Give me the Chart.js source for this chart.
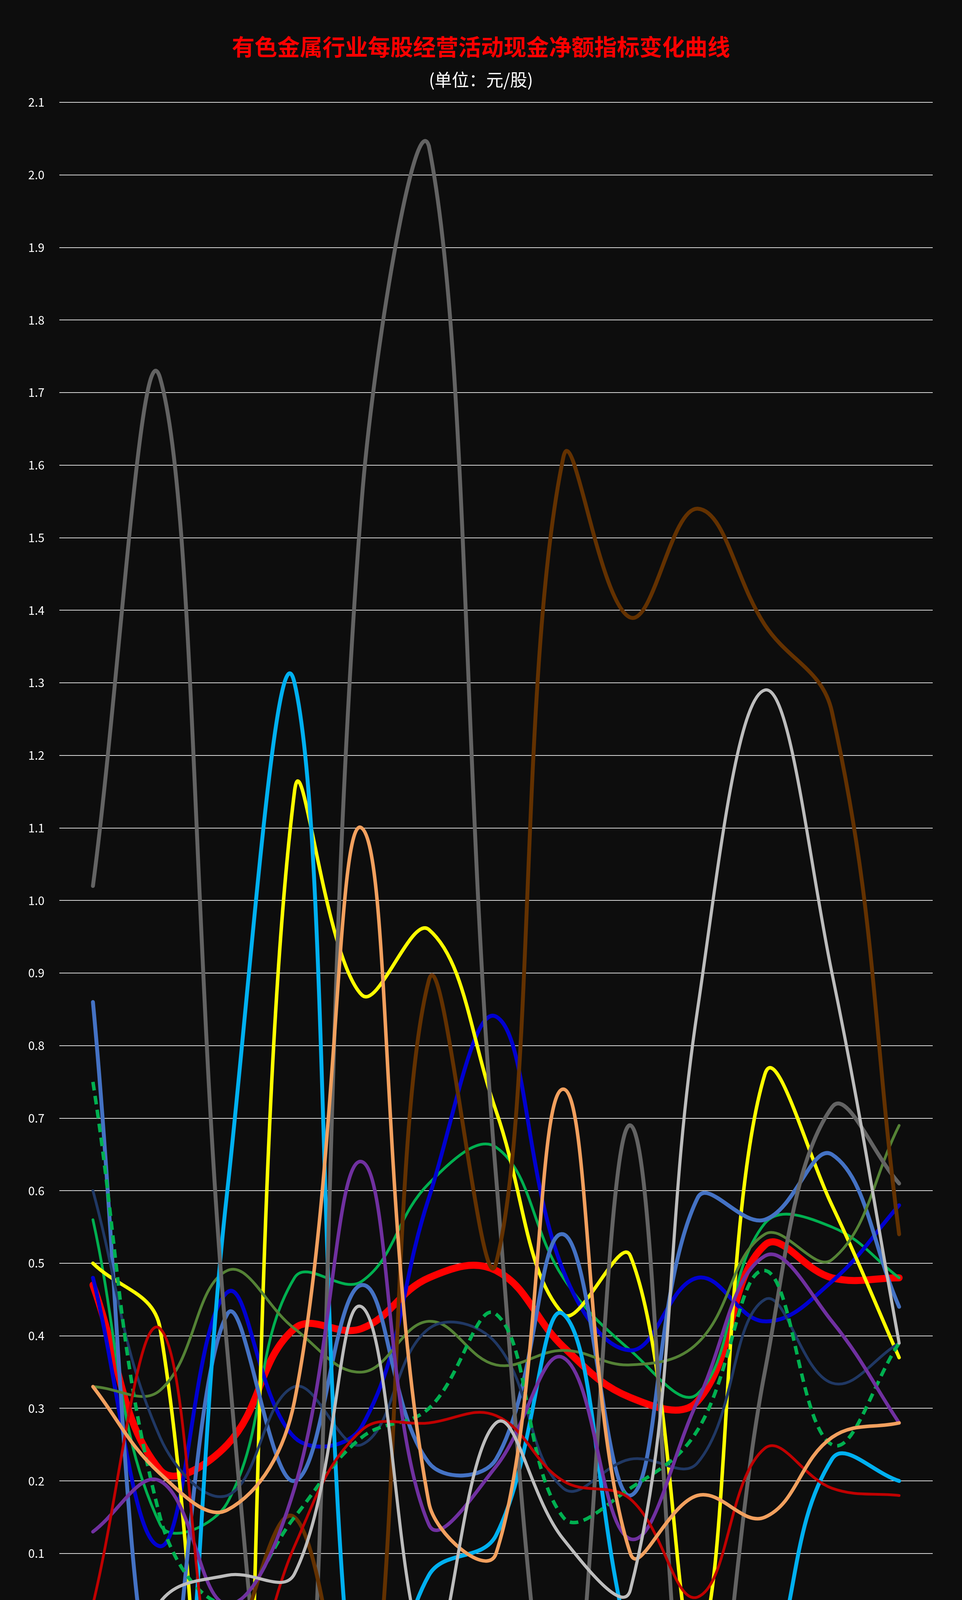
<!DOCTYPE html>
<html>
<head>
<meta charset="utf-8">
<script src="https://cdn.jsdelivr.net/npm/chart.js@4.4.1/dist/chart.umd.min.js"></script>
<style>
body{margin:0;background:#0d0d0d;}
#wrap{position:relative;width:2464px;height:5836px;background:#0d0d0d;overflow:hidden;
  font-family:"Noto Sans CJK SC","Noto Sans",sans-serif;color:#fff;}
#c{position:absolute;left:0;top:0;}
.title{position:absolute;left:0;width:2464px;top:82px;text-align:center;font-size:58px;line-height:70px;font-weight:bold;color:#ff0000;}
.sub{position:absolute;left:0;width:2464px;top:176px;text-align:center;font-size:44px;line-height:52px;}
.leg{position:absolute;height:40px;display:flex;align-items:center;font-size:30px;white-space:nowrap;}
.sw{width:63px;height:8px;border-radius:4px;margin-right:2px;}
.dash{width:63px;display:flex;gap:8px;margin-right:2px;}
.dash span{flex:1;height:9px;border-radius:4px;}
.mark{position:absolute;left:2118px;top:5736px;font-size:64px;line-height:72px;color:#fff;
  text-shadow:0 0 6px #000,0 0 3px #000;}
.logo{position:absolute;left:2026px;top:5738px;}
</style>
</head>
<body>
<div id="wrap">
  <canvas id="c" width="2464" height="5836"></canvas>
  <div class="title">有色金属行业每股经营活动现金净额指标变化曲线</div>
  <div class="sub">(单位：元/股)</div>
  <div id="legend"></div>
  <svg class="logo" width="92" height="80" viewBox="0 0 92 80">
    <ellipse cx="40" cy="46" rx="38" ry="30" fill="#fff" transform="rotate(-20 40 46)"/>
    <ellipse cx="36" cy="52" rx="20" ry="16" fill="#0d0d0d"/>
    <circle cx="34" cy="54" r="8" fill="#fff"/>
    <path d="M62 6 a26 26 0 0 1 26 28" stroke="#fff" stroke-width="6" fill="none" stroke-linecap="round"/>
  </svg>
  <div class="mark">@赵毅论房</div>
</div>

<script>
// categories
const years = ["2008年报","2009年报","2010年报","2011年报","2012年报","2013年报","2014年报",
  "2015年报","2016年报","2017年报","2018年报","2019年报","2020年报"];

// series values (元/股)
const nonferrous      = [0.47, 0.215, 0.25, 0.41, 0.41, 0.48, 0.49, 0.385, 0.315, 0.31, 0.525, 0.48, 0.48];
const industrialMetal = [0.56, 0.14, 0.17, 0.48, 0.475, 0.61, 0.66, 0.48, 0.38, 0.32, 0.555, 0.55, 0.48];
const aluminium       = [0.48, 0.11, 0.46, 0.26, 0.275, 0.59, 0.84, 0.49, 0.38, 0.48, 0.42, 0.475, 0.58];
const copper          = [0.50, 0.41, -0.63, 1.15, 0.87, 0.96, 0.71, 0.43, 0.51, -0.03, 0.76, 0.58, 0.37];
const leadZinc        = [0.86, -0.13, 0.43, 0.20, 0.47, 0.225, 0.23, 0.54, 0.18, 0.59, 0.56, 0.65, 0.44];
const gold            = [0.33, 0.325, 0.49, 0.41, 0.35, 0.42, 0.36, 0.38, 0.36, 0.39, 0.54, 0.505, 0.69];
const rareMetal       = [0.60, 0.26, 0.18, 0.33, 0.25, 0.41, 0.39, 0.19, 0.23, 0.225, 0.45, 0.335, 0.39];
const rareEarth       = [-0.03, -0.37, 0.60, 1.30, -0.20, 0.07, 0.125, 0.43, -0.03, -0.26, -0.095, 0.23, 0.20];
const tungsten        = [1.02, 1.72, 0.38, -0.35, 1.55, 2.04, 0.62, -0.19, 0.69, -0.25, 0.35, 0.715, 0.61];
const lithium         = [null, null, -0.06, 0.15, -0.205, 0.89, 0.50, 1.61, 1.39, 1.54, 1.38, 1.26, 0.54];
const otherMinor      = [0.75, 0.15, 0.03, 0.15, 0.26, 0.30, 0.43, 0.15, 0.19, 0.27, 0.49, 0.25, 0.39];
const newMaterial     = [0.13, 0.20, 0.03, 0.19, 0.64, 0.14, 0.22, 0.37, 0.12, 0.31, 0.51, 0.42, 0.28];
const metalNewMat     = [0.03, 0.41, -0.145, 0.11, 0.27, 0.28, 0.29, 0.20, 0.175, 0.04, 0.245, 0.19, 0.18];
const magnetic        = [0.33, 0.21, 0.16, 0.31, 1.10, 0.17, 0.10, 0.74, 0.10, 0.18, 0.15, 0.26, 0.28];
const nonMetalNewMat  = [-0.18, 0.033, 0.07, 0.072, 0.44, -0.04, 0.28, 0.12, 0.05, 0.85, 1.29, 0.90, 0.39];

const seriesNames = ["有色金属行业","工业金属业","铝业","铜业","铅锌业",
  "黄金业","稀有金属业","稀土业","钨业","锂业",
  "其它稀有小金属业","金属非金属新材料业","金属新材料业","磁性材料业","非金属新材料业"];
const seriesData = [nonferrous, industrialMetal, aluminium, copper, leadZinc,
  gold, rareMetal, rareEarth, tungsten, lithium,
  otherMinor, newMaterial, metalNewMat, magnetic, nonMetalNewMat];

// styles
const colors = ["#ff0000","#00b050","#0000d0","#ffff00","#4472c4",
  "#548235","#203864","#00b0f0","#636363","#633100",
  "#00b050","#7030a0","#c00000","#f2a05e","#bdbdbd"];
const widths = [18,7,10,9,10, 7,7,10,10,10, 9,9,7,9,8];

const FONT = '"Noto Sans CJK SC","Noto Sans",sans-serif';

const datasets = seriesData.map((d, i) => ({
  label: seriesNames[i],
  data: d,
  borderColor: colors[i],
  backgroundColor: colors[i],
  borderWidth: widths[i],
  borderDash: i === 10 ? [22, 14] : [],
  borderCapStyle: i === 10 ? 'butt' : 'round',
  order: seriesData.length - i,
  fill: false
}));

new Chart(document.getElementById("c"), {
  type: "line",
  data: { labels: years, datasets: datasets },
  options: {
    responsive: false,
    animation: false,
    devicePixelRatio: 1,
    layout: { padding: { top: 262, right: 75, bottom: 293, left: 0 } },
    elements: {
      point: { radius: 0, hoverRadius: 0 },
      line: { tension: 0.4, borderJoinStyle: 'round' }
    },
    plugins: { legend: { display: false }, tooltip: { enabled: false } },
    scales: {
      x: {
        offset: true,
        grid: { display: false },
        border: { display: false },
        ticks: { color: "#fff", font: { size: 30, family: FONT }, padding: 31, maxRotation: 0, autoSkip: false },
        afterFit(s) { s.height = 80; }
      },
      y: {
        min: -0.7, max: 2.1,
        grid: { color: "#d9d9d9", lineWidth: 2, drawTicks: false },
        border: { display: false },
        ticks: {
          stepSize: 0.1, color: "#fff", padding: 38,
          font: { size: 30, family: FONT },
          callback: v => Math.abs(v) < 1e-9 ? "0.0" : Number(v).toFixed(1)
        },
        afterFit(s) { s.width = 152; }
      }
    }
  }
});

// legend: 3 rows x 5 columns, same order as the series
const legend = document.getElementById("legend");
const rowY = [5607, 5677, 5748];
seriesNames.forEach((name, i) => {
  const item = document.createElement("div");
  item.className = "leg";
  item.style.left = (173 + (i % 5) * 455.75) + "px";
  item.style.top = (rowY[Math.floor(i / 5)] - 20) + "px";
  let sw;
  if (i === 10) {
    sw = document.createElement("div");
    sw.className = "dash";
    sw.innerHTML = '<span style="background:' + colors[i] + '"></span><span style="background:' + colors[i] + '"></span>';
  } else {
    sw = document.createElement("div");
    sw.className = "sw";
    sw.style.background = colors[i];
    if (i === 0) { sw.style.height = "13px"; sw.style.borderRadius = "7px"; }
  }
  item.appendChild(sw);
  const t = document.createElement("span");
  t.textContent = name;
  item.appendChild(t);
  legend.appendChild(item);
});
</script>
</body>
</html>
